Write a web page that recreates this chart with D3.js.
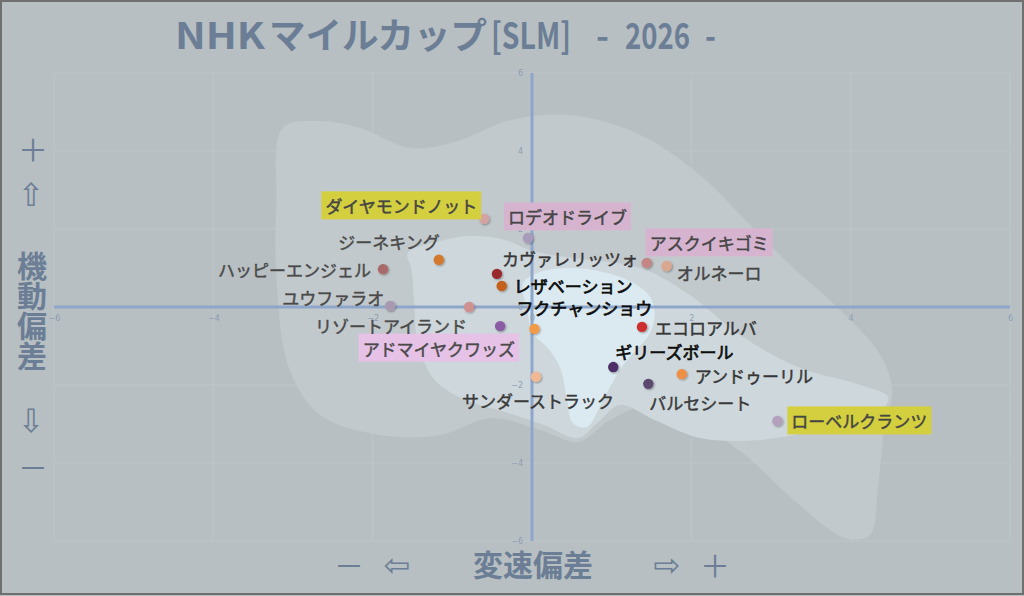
<!DOCTYPE html>
<html><head><meta charset="utf-8">
<script src="https://cdn.jsdelivr.net/npm/d3@7"></script>
<style>html,body{margin:0;padding:0;background:#b8bfc2;overflow:hidden}</style>
</head><body><svg id="c" width="1024" height="596"></svg>
<script>
// ---- data ----
const horses = ["ダイヤモンドノット","ロデオドライブ","ジーネキング","ハッピーエンジェル","カヴァレリッツォ","レザベーション","フクチャンショウ","ユウファラオ","リゾートアイランド","アドマイヤクワッズ","エコロアルバ","ギリーズボール","アンドゥーリル","サンダーストラック","バルセシート","ローベルクランツ","アスクイキゴミ","オルネーロ"];
const speedDev =    [-0.60,-0.05,-1.17,-1.87,-0.44,-0.38, 0.03,-1.78,-0.79,-0.40, 1.38, 1.02, 1.88, 0.05, 1.46, 3.08, 1.44, 1.69];
const mobilityDev = [ 2.26, 1.77, 1.21, 0.97, 0.85, 0.54,-0.56, 0.03, 0.00,-0.49,-0.51,-1.54,-1.72,-1.79,-1.97,-2.92, 1.13, 1.05];
const tickValues = [-6,-4,-2,0,2,4,6];
const titleParts = ["NHK","マイルカップ","[SLM]","-","2026","-"];
const xAxisTitle = "変速偏差";
const yAxisTitle = ["機","動","偏","差"];

// density contour outlines (data units)
const contourOuter = [[-3.13,4.59],[-2.69,4.77],[-2.16,4.59],[-1.53,4.08],[-0.97,4.23],[-0.28,4.79],[0.48,4.92],[1.36,4.41],[2.11,3.38],[2.74,2.10],[3.24,1.08],[3.87,-0.08],[4.37,-1.23],[4.52,-2.13],[4.42,-3.15],[4.34,-4.69],[4.24,-5.85],[3.93,-5.92],[3.36,-5.08],[2.67,-3.79],[2.11,-3.03],[1.48,-2.51],[0.98,-2.90],[0.58,-3.46],[0.10,-3.15],[-0.53,-2.85],[-1.15,-3.28],[-1.91,-3.28],[-2.66,-2.77],[-3.04,-1.62],[-3.19,0.18],[-3.21,2.74]];
const contourMid = [[-1.56,1.38],[-1.28,1.62],[-0.78,1.82],[-0.34,1.72],[-0.03,1.46],[0.48,1.26],[1.36,1.00],[1.98,0.31],[2.61,-0.72],[3.36,-1.56],[4.12,-2.00],[4.47,-2.31],[4.37,-2.69],[3.74,-3.08],[2.86,-3.41],[2.11,-3.36],[1.54,-2.90],[1.10,-2.51],[0.83,-2.95],[0.58,-3.36],[0.16,-3.03],[-0.34,-2.69],[-0.84,-2.38],[-1.22,-1.87],[-1.43,-0.97],[-1.48,0.18],[-1.51,0.95]];
const contourInner = [[-0.11,0.62],[0.10,0.90],[0.48,1.00],[0.89,0.90],[1.27,0.62],[1.48,0.26],[1.54,-0.15],[1.48,-0.67],[1.27,-1.18],[1.10,-1.62],[0.98,-2.05],[0.85,-2.56],[0.69,-3.08],[0.51,-2.97],[0.44,-2.38],[0.35,-1.54],[0.19,-1.03],[0.01,-0.67],[-0.06,-0.08]];

// ---- styles / layout (kept apart from data) ----
const dotColors = ["#d3a3a3","#a99bbb","#d4782e","#a86a6a","#982a2e","#c4601a","#f39a48","#a899b0","#cf9090","#8a5ba3","#cc2f2f","#4d2d66","#ee8f45","#f0b994","#5c4870","#b3a0bd","#c48585","#d9a88e"];
const labelFill = ["#454545","#454545","#4a4a4a","#4a4a4a","#363636","#0d0d0d","#0d0d0d","#4a4a4a","#4a4a4a","#4a4a4a","#363636","#0d0d0d","#363636","#3a3a3a","#3a3a3a","#454545","#454545","#454545"];
const labelBg = ["#d3cf3e","#d6b4d0",null,null,null,null,null,null,null,"#e6c2e6",null,null,null,null,null,"#d3cf3e","#d6b4d0",null];
// [dx, dy, anchor]
const labelPlace = [[-7,-13,"end"],[-20,-21,"start"],[1,-18,"end"],[-12,0,"end"],[5,-15,"start"],[12,0,"start"],[-18,-21,"start"],[-6,-8,"end"],[-2,18,"end"],[15,22,"end"],[13,1,"start"],[2,-16,"start"],[13,1,"start"],[2,24,"middle"],[1,19,"start"],[14,0,"start"],[3,-20,"start"],[10,6,"start"]];

const W = 1024, H = 596;
const svg = d3.select("#c");
const x = d3.scaleLinear().domain([-6,6]).range([54,1010]);
const y = d3.scaleLinear().domain([-6,6]).range([541,73]);
const slate = "#6b7e95";
const jp = "'Noto Sans CJK JP','Noto Sans',sans-serif";

svg.append("rect").attr("width",W).attr("height",H).attr("fill","#b8bfc2");

// grid
const g = svg.append("g");
g.append("rect").attr("x",x(-6)).attr("y",y(6)).attr("width",x(6)-x(-6)).attr("height",y(-6)-y(6))
  .attr("fill","none").attr("stroke","#bec6ca").attr("stroke-width",1);
const inner = tickValues.filter(v=>Math.abs(v)!==6 && v!==0);
g.selectAll(".gx").data(inner).join("line")
  .attr("x1",d=>x(d)).attr("x2",d=>x(d)).attr("y1",y(6)).attr("y2",y(-6)).attr("stroke","#bec6ca").attr("stroke-width",1);
g.selectAll(".gy").data(inner).join("line")
  .attr("y1",d=>y(d)).attr("y2",d=>y(d)).attr("x1",x(-6)).attr("x2",x(6)).attr("stroke","#bec6ca").attr("stroke-width",1);

// contours
const line = d3.line().x(d=>x(d[0])).y(d=>y(d[1])).curve(d3.curveCatmullRomClosed.alpha(0.5));
svg.append("path").attr("d",line(contourOuter)).attr("fill","#c2c9cc");
svg.append("path").attr("d",line(contourMid)).attr("fill","#ced8dc");
svg.append("path").attr("d",line(contourInner)).attr("fill","#dbeaf0");

// axes lines
svg.append("line").attr("x1",x(-6)).attr("x2",x(6)).attr("y1",y(0)).attr("y2",y(0)).attr("stroke","#8ea6c9").attr("stroke-width",3);
svg.append("line").attr("x1",x(0)).attr("x2",x(0)).attr("y1",y(6)).attr("y2",y(-6)).attr("stroke","#8ea6c9").attr("stroke-width",3);

// tick labels via d3 axes
const xa = svg.append("g").attr("transform",`translate(0,${y(0)})`)
  .call(d3.axisBottom(x).tickValues(tickValues).tickSize(0).tickPadding(8).tickFormat(d3.format("d")));
const ya = svg.append("g").attr("transform",`translate(${x(0)-2},0)`)
  .call(d3.axisLeft(y).tickValues(tickValues).tickSize(0).tickPadding(7).tickFormat(d3.format("d")));
[xa,ya].forEach(a=>{a.select(".domain").remove();
  a.selectAll("text").attr("fill","#8c9db5").attr("font-size",8).attr("font-family","'DejaVu Sans',sans-serif");});

// points
const idx = d3.range(horses.length);
const defs = svg.append("defs");
const f = defs.append("filter").attr("id","sh").attr("x","-50%").attr("y","-50%").attr("width","200%").attr("height","200%");
f.append("feGaussianBlur").attr("in","SourceAlpha").attr("stdDeviation",1.2).attr("result","b");
f.append("feOffset").attr("in","b").attr("dx",0.5).attr("dy",0.8).attr("result","o");
f.append("feComponentTransfer").attr("in","o").attr("result","o2").append("feFuncA").attr("type","linear").attr("slope",0.35);
const m = f.append("feMerge"); m.append("feMergeNode").attr("in","o2"); m.append("feMergeNode").attr("in","SourceGraphic");

svg.append("g").selectAll("circle").data(idx).join("circle")
  .attr("cx",i=>x(speedDev[i])).attr("cy",i=>y(mobilityDev[i])).attr("r",5.2)
  .attr("fill",i=>dotColors[i]).attr("filter","url(#sh)");

// labels
const lg = svg.append("g");
idx.forEach(i=>{
  const [dx,dy,anc] = labelPlace[i];
  const dark = labelFill[i] === "#0d0d0d";
  const t = lg.append("text").attr("x",x(speedDev[i])+dx).attr("y",y(mobilityDev[i])+dy)
    .attr("text-anchor",anc).attr("dominant-baseline","central")
    .attr("font-family",jp).attr("font-size",17).attr("fill",labelFill[i])
    .attr("stroke",labelFill[i]).attr("stroke-width",dark?0.7:0.45).text(horses[i]);
  if (labelBg[i]) {
    const b = t.node().getBBox();
    lg.insert("rect","text").attr("x",b.x-4).attr("y",b.y-2).attr("width",b.width+8).attr("height",b.height+3).attr("fill",labelBg[i]);
  }
});

// title
const tt = svg.append("g").attr("fill",slate).attr("font-family",jp).attr("font-weight","bold");
const tpos = [[175,90],[269,218],[491,80],[596,13],[625,65],[705,11]];
titleParts.forEach((s,i)=>{
  tt.append("text").attr("x",tpos[i][0]).attr("y",49).attr("font-size",36)
    .attr("textLength",tpos[i][1]).attr("lengthAdjust","spacingAndGlyphs").text(s);
});

// y axis title
const yt = svg.append("g").attr("fill",slate).attr("font-family",jp).attr("text-anchor","middle");
const arrowFont = "'DejaVu Sans',sans-serif";
yt.append("text").attr("x",33).attr("y",148).attr("dominant-baseline","central").attr("font-size",30).text("＋");
yt.append("text").attr("x",31).attr("y",195).attr("dominant-baseline","central").attr("font-size",32).attr("font-family",arrowFont).text("⇧");
yAxisTitle.forEach((c,i)=>yt.append("text").attr("x",32).attr("y",264+i*30).attr("dominant-baseline","central").attr("font-size",30).attr("font-weight","bold").text(c));
yt.append("text").attr("x",31).attr("y",421).attr("dominant-baseline","central").attr("font-size",32).attr("font-family",arrowFont).text("⇩");
yt.append("text").attr("x",33).attr("y",466).attr("dominant-baseline","central").attr("font-size",30).text("－");

// x axis title
const xt = svg.append("g").attr("fill",slate).attr("font-family",jp).attr("text-anchor","middle");
xt.append("text").attr("x",349).attr("y",564).attr("dominant-baseline","central").attr("font-size",30).text("－");
xt.append("text").attr("x",397).attr("y",565).attr("dominant-baseline","central").attr("font-size",32).attr("font-family",arrowFont).text("⇦");
xt.append("text").attr("x",533).attr("y",563).attr("dominant-baseline","central").attr("font-size",30).attr("font-weight","bold").text(xAxisTitle);
xt.append("text").attr("x",667).attr("y",565).attr("dominant-baseline","central").attr("font-size",32).attr("font-family",arrowFont).text("⇨");
xt.append("text").attr("x",715).attr("y",564).attr("dominant-baseline","central").attr("font-size",30).text("＋");

// frame
svg.append("rect").attr("x",1).attr("y",1).attr("width",W-2).attr("height",H-3).attr("fill","none").attr("stroke","#6f6f6f").attr("stroke-width",2);
</script></body></html>
